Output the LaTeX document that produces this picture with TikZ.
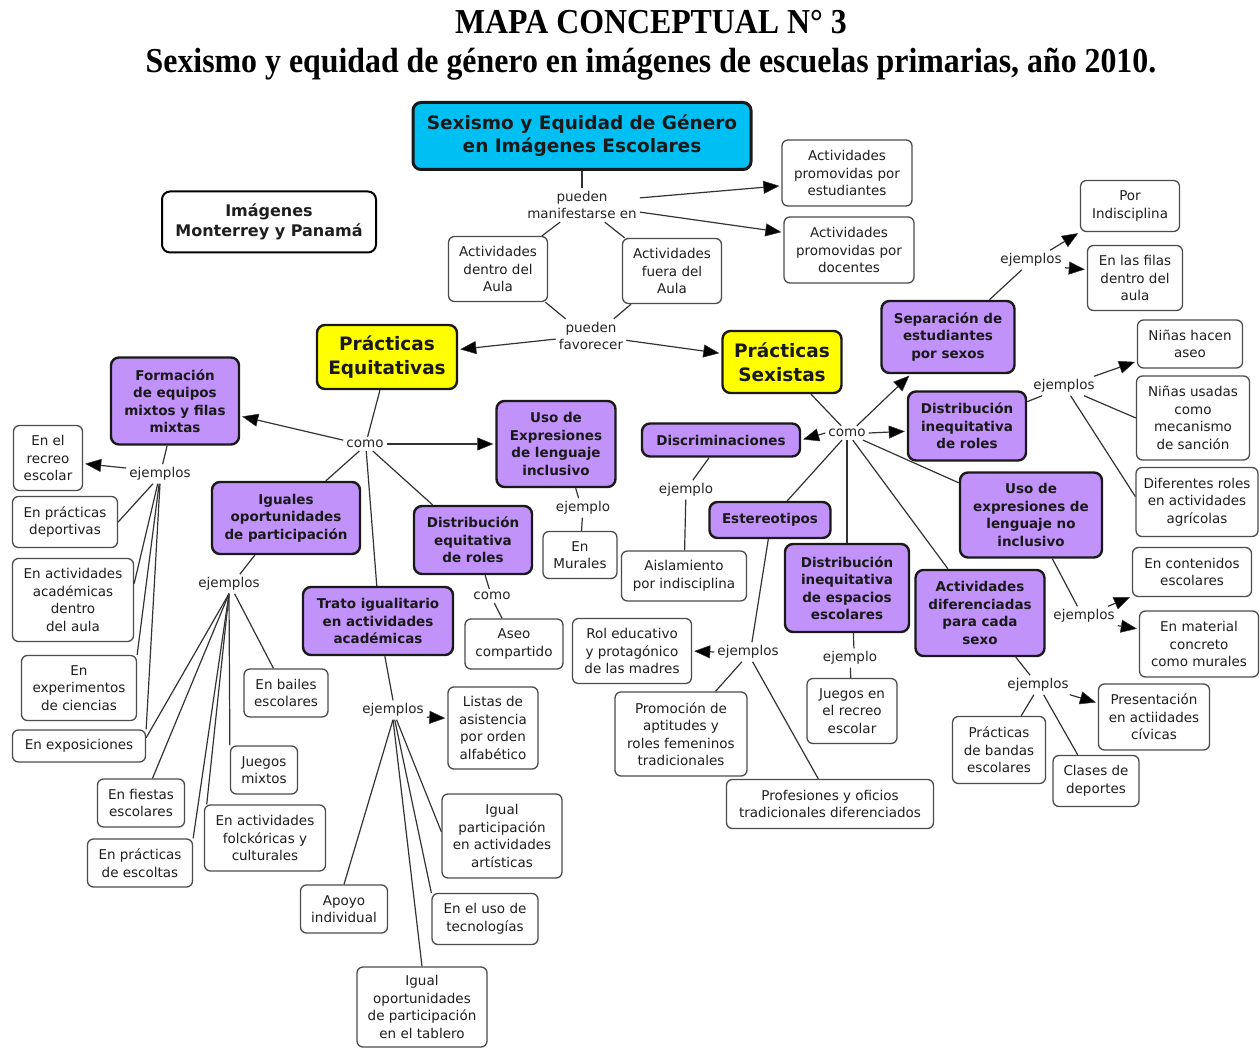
\documentclass[tikz,border=0pt]{standalone}
\usepackage{fontspec}
\usepackage{graphicx}
\usetikzlibrary{arrows.meta}
\newfontfamily\mapfont{DejaVu Sans}
\newfontfamily\headfont{Liberation Serif}
\definecolor{cyanfill}{RGB}{0,192,243}
\definecolor{violetfill}{RGB}{193,146,250}
\definecolor{yellowfill}{RGB}{255,255,0}
\begin{document}
\begin{tikzpicture}[x=1pt,y=-1pt,
  cbox/.style={rounded corners=6pt, align=center, inner sep=2pt,
    font=\mapfont\fontsize{13.5}{17.5}\selectfont, text=black!88,
    draw=black!70, line width=1.3pt, fill=white},
  kbox/.style={cbox, draw=black!90, line width=2.4pt, fill=violetfill, rounded corners=8pt,
    font=\mapfont\bfseries\fontsize{13.5}{17.5}\selectfont, text=black!90},
  pbox/.style={kbox, fill=yellowfill, font=\mapfont\bfseries\fontsize{18.5}{24}\selectfont},
  lbl/.style={font=\mapfont\fontsize{13.5}{17.5}\selectfont, text=black!85, inner sep=3pt, align=center},
  ln/.style={draw=black!80, line width=1.2pt},
  arr/.style={ln, -{Triangle[length=16pt,width=13pt,fill=black,line width=0.5pt]}, shorten >=2pt},
  head/.style={anchor=base, font=\headfont\bfseries\fontsize{35}{40}\selectfont}
]
\useasboundingbox (0,0) rectangle (1260,1048);
\fill[white] (0,0) rectangle (1260,1048);

% heading
\node[head] (head1) at (651,34) {\scalebox{0.91}[1]{MAPA CONCEPTUAL N° 3}};
\node[head] (head2) at (651,73) {\scalebox{0.91}[1]{Sexismo y equidad de género en imágenes de escuelas primarias, año 2010.}};

% top concepts
\node[kbox, fill=cyanfill, line width=3pt, font=\mapfont\bfseries\fontsize{18.5}{23}\selectfont,
  minimum width=338pt, minimum height=67pt] (root) at (582,136) {Sexismo y Equidad de Género\\en Imágenes Escolares};
\node[cbox, draw=black, line width=2pt, rounded corners=8pt, font=\mapfont\bfseries\fontsize{16}{20}\selectfont,
  minimum width=214pt, minimum height=61pt] (places) at (269,222) {Imágenes\\Monterrey y Panamá};
\node[cbox, minimum width=130pt, minimum height=66pt] (estud) at (847,173) {Actividades\\promovidas por\\estudiantes};
\node[cbox, minimum width=130pt, minimum height=66pt] (docen) at (849,250) {Actividades\\promovidas por\\docentes};
\node[cbox, minimum width=99pt, minimum height=65pt] (dentro) at (498,269) {Actividades\\dentro del\\Aula};
\node[cbox, minimum width=99pt, minimum height=65pt] (fuera) at (672,271) {Actividades\\fuera del\\Aula};
\node[pbox, minimum width=140pt, minimum height=64pt] (equit) at (387,357) {Prácticas\\Equitativas};
\node[pbox, minimum width=119pt, minimum height=62pt] (sexis) at (782,362) {Prácticas\\Sexistas};

\node[lbl] (lman) at (582,205) {pueden\\manifestarse en};
\node[lbl] (lfav) at (591,336) {pueden\\favorecer};

% equitable practices
\node[kbox, minimum width=128pt, minimum height=87pt] (form) at (175,401) {Formación\\de equipos\\mixtos y filas\\mixtas};
\node[kbox, minimum width=119pt, minimum height=86pt] (usoinc) at (556,444) {Uso de\\Expresiones\\de lenguaje\\inclusivo};
\node[kbox, minimum width=148pt, minimum height=72pt] (igual) at (286,518) {Iguales\\oportunidades\\de participación};
\node[kbox, minimum width=118pt, minimum height=68pt] (disteq) at (473,540) {Distribución\\equitativa\\de roles};
\node[kbox, minimum width=150pt, minimum height=68pt] (trato) at (378,621) {Trato igualitario\\en actividades\\académicas};

\node[cbox, minimum width=74pt, minimum height=47pt] (murales) at (580,555) {En\\Murales};
\node[cbox, minimum width=98pt, minimum height=50pt] (aseo) at (514,644) {Aseo\\compartido};
\node[cbox, minimum width=69pt, minimum height=65pt] (recreo) at (48,458) {En el\\recreo\\escolar};
\node[cbox, minimum width=105pt, minimum height=51pt] (deport) at (65,522) {En prácticas\\deportivas};
\node[cbox, minimum width=121pt, minimum height=83pt] (acad) at (73,600) {En actividades\\académicas\\dentro\\del aula};
\node[cbox, minimum width=115pt, minimum height=65pt] (exper) at (79,688) {En\\experimentos\\de ciencias};
\node[cbox, minimum width=133pt, minimum height=32pt] (expo) at (79,746) {En exposiciones};
\node[cbox, minimum width=84pt, minimum height=48pt] (bailes) at (286,693) {En bailes\\escolares};
\node[cbox, minimum width=67pt, minimum height=48pt] (juegos) at (264,770) {Juegos\\mixtos};
\node[cbox, minimum width=87pt, minimum height=48pt] (fiestas) at (141,803) {En fiestas\\escolares};
\node[cbox, minimum width=121pt, minimum height=66pt] (folk) at (265,838) {En actividades\\folckóricas y\\culturales};
\node[cbox, minimum width=105pt, minimum height=48pt] (escoltas) at (140,863) {En prácticas\\de escoltas};
\node[cbox, minimum width=87pt, minimum height=48pt] (apoyo) at (344,909) {Apoyo\\individual};
\node[cbox, minimum width=90pt, minimum height=82pt] (listas) at (493,728) {Listas de\\asistencia\\por orden\\alfabético};
\node[cbox, minimum width=120pt, minimum height=84pt] (artis) at (502,836) {Igual\\participación\\en actividades\\artísticas};
\node[cbox, minimum width=106pt, minimum height=51pt] (tecno) at (485,919) {En el uso de\\tecnologías};
\node[cbox, minimum width=130pt, minimum height=80pt] (tablero) at (422,1007) {Igual\\oportunidades\\de participación\\en el tablero};

\node[lbl] (lcomoL) at (365,444) {como};
\node[lbl] (lejF) at (160,474) {ejemplos};
\node[lbl] (lejI) at (229,584) {ejemplos};
\node[lbl] (lejU) at (583,508) {ejemplo};
\node[lbl] (lcomoD) at (492,596) {como};
\node[lbl] (lejT) at (393,710) {ejemplos};

% sexist practices
\node[kbox, minimum width=158pt, minimum height=33pt] (discr) at (721,440) {Discriminaciones};
\node[kbox, minimum width=133pt, minimum height=72pt] (separ) at (948,337) {Separación de\\estudiantes\\por sexos};
\node[kbox, minimum width=118pt, minimum height=69pt] (distin) at (967,426) {Distribución\\inequitativa\\de roles};
\node[kbox, minimum width=142pt, minimum height=85pt] (usonoinc) at (1031,515) {Uso de\\expresiones de\\lenguaje no\\inclusivo};
\node[kbox, minimum width=129pt, minimum height=86pt] (actdif) at (980,613) {Actividades\\diferenciadas\\para cada\\sexo};
\node[kbox, minimum width=121pt, minimum height=36pt] (estereo) at (770,520) {Estereotipos};
\node[kbox, minimum width=124pt, minimum height=88pt] (espacios) at (847,588) {Distribución\\inequitativa\\de espacios\\escolares};

\node[cbox, minimum width=99pt, minimum height=51pt] (porind) at (1130,206) {Por\\Indisciplina};
\node[cbox, minimum width=95pt, minimum height=65pt] (filas) at (1135,278) {En las filas\\dentro del\\aula};
\node[cbox, minimum width=105pt, minimum height=48pt] (aseo2) at (1190,344) {Niñas hacen\\aseo};
\node[cbox, minimum width=113pt, minimum height=84pt] (sancion) at (1193,418) {Niñas usadas\\como\\mecanismo\\de sanción};
\node[cbox, minimum width=122pt, minimum height=69pt] (agric) at (1197,502) {Diferentes roles\\en actividades\\agrícolas};
\node[cbox, minimum width=119pt, minimum height=49pt] (conten) at (1192,572) {En contenidos\\escolares};
\node[cbox, minimum width=119pt, minimum height=66pt] (material) at (1199,644) {En material\\concreto\\como murales};
\node[cbox, minimum width=111pt, minimum height=66pt] (present) at (1154,717) {Presentación\\en actiidades\\cívicas};
\node[cbox, minimum width=93pt, minimum height=67pt] (bandas) at (999,750) {Prácticas\\de bandas\\escolares};
\node[cbox, minimum width=86pt, minimum height=51pt] (clases) at (1096,781) {Clases de\\deportes};
\node[cbox, minimum width=125pt, minimum height=50pt] (aislam) at (684,576) {Aislamiento\\por indisciplina};
\node[cbox, minimum width=119pt, minimum height=65pt] (rol) at (632,651) {Rol educativo\\y protagónico\\de las madres};
\node[cbox, minimum width=132pt, minimum height=84pt] (promo) at (681,734) {Promoción de\\aptitudes y\\roles femeninos\\tradicionales};
\node[cbox, minimum width=207pt, minimum height=49pt] (profes) at (830,804) {Profesiones y oficios\\tradicionales diferenciados};
\node[cbox, minimum width=90pt, minimum height=65pt] (recreo2) at (852,711) {Juegos en\\el recreo\\escolar};

\node[lbl] (lcomoR) at (847,433) {como};
\node[lbl] (lejS) at (1031,260) {ejemplos};
\node[lbl] (lejD) at (1064,386) {ejemplos};
\node[lbl] (lejUN) at (1084,616) {ejemplos};
\node[lbl] (lejA) at (1038,685) {ejemplos};
\node[lbl] (lejDi) at (686,490) {ejemplo};
\node[lbl] (lejE) at (748,652) {ejemplos};
\node[lbl] (lejEs) at (850,658) {ejemplo};

% connectors: top
\draw[ln] (root) -- (lman);
\draw[arr] (lman.7) -- (estud.191);
\draw[arr] (lman.-7) -- (docen.165);
\draw[ln] (lman.218) -- (dentro.37);
\draw[ln] (lman.-37) -- (fuera.145);
\draw[ln] (dentro.-35) -- (lfav.146);
\draw[ln] (fuera.219) -- (lfav.37);
\draw[arr] (lfav.185) -- (equit.6);
\draw[arr] (lfav.-7) -- (sexis.172);

% connectors: equitable practices
\draw[ln] (equit.258) -- (lcomoL.70);
\draw[arr] (lcomoL.170) -- (form.-13);
\draw[arr] (lcomoL.east) -- (usoinc.west);
\draw[ln] (lcomoL.231) -- (igual.43);
\draw[ln] (lcomoL.-42) -- (disteq.139);
\draw[ln] (lcomoL.-80) -- (trato.92);
\draw[ln] (usoinc.-66) -- (lejU.114);
\draw[ln] (lejU) -- (murales);
\draw[ln] (disteq.-71) -- (lcomoD.111);
\draw[ln] (lcomoD.-72) -- (aseo.115);
\draw[ln] (igual.230) -- (lejI.42);
\draw[ln] (lejI.south) -- (expo.7);
\draw[ln] (lejI.south) -- (fiestas.65);
\draw[ln] (lejI.south) -- (escoltas.north east);
\draw[ln] (lejI.south) -- (folk.150);
\draw[ln] (lejI.south) -- (juegos.north west);
\draw[ln] (lejI.-60) -- (bailes.117);
\draw[ln] (form.260) -- (lejF.75);
\draw[arr] (lejF.170) -- (recreo.-9);
\draw[ln] (lejF.234) -- (deport.east);
\draw[ln] (lejF.257) -- (acad.15);
\draw[ln] (lejF.265) -- (exper.north east);
\draw[ln] (lejF.south) -- (expo.north east);
\draw[ln] (trato.-79) -- (lejT.north);
\draw[arr] (lejT.-12) -- (listas.168);
\draw[ln] (lejT.south) -- (apoyo.north);
\draw[ln] (lejT.-70) -- (artis.176);
\draw[ln] (lejT.-80) -- (tecno.north west);
\draw[ln] (lejT.south) -- (tablero.north);

% connectors: sexist practices
\draw[ln] (sexis.-48) -- (lcomoR.129);
\draw[arr] (lcomoR.west) -- (discr.east);
\draw[arr] (lcomoR.east) -- (distin.185);
\draw[arr] (lcomoR.36) -- (separ.225);
\draw[ln] (lcomoR.-24) -- (usonoinc.156);
\draw[ln] (lcomoR.235) -- (estereo.48);
\draw[ln] (lcomoR) -- (espacios);
\draw[ln] (lcomoR.-51) -- (actdif.126);
\draw[ln] (discr.236) -- (lejDi.55);
\draw[ln] (lejDi) -- (aislam);
\draw[ln] (estereo.265) -- (lejE.68);
\draw[arr] (lejE.west) -- (rol.east);
\draw[ln] (lejE.238) -- (promo.51);
\draw[ln] (lejE.-65) -- (profes.115);
\draw[ln] (espacios.-82) -- (lejEs.68);
\draw[ln] (lejEs) -- (recreo2);
\draw[ln] (separ.42) -- (lejS.227);
\draw[arr] (lejS.27) -- (porind.south west);
\draw[arr] (lejS.-13) -- (filas.170);
\draw[ln] (distin.22) -- (lejD.204);
\draw[arr] (lejD.18) -- (aseo2.198);
\draw[ln] (lejD.-26) -- (sancion.west);
\draw[ln] (lejD.-56) -- (agric.175);
\draw[ln] (usonoinc.-64) -- (lejUN.124);
\draw[arr] (lejUN.22) -- (conten.202);
\draw[arr] (lejUN.-16) -- (material.166);
\draw[ln] (actdif.-51) -- (lejA.129);
\draw[arr] (lejA.-17) -- (present.166);
\draw[ln] (lejA.247) -- (bandas.57);
\draw[ln] (lejA.-60) -- (clases.125);
\end{tikzpicture}
\end{document}
